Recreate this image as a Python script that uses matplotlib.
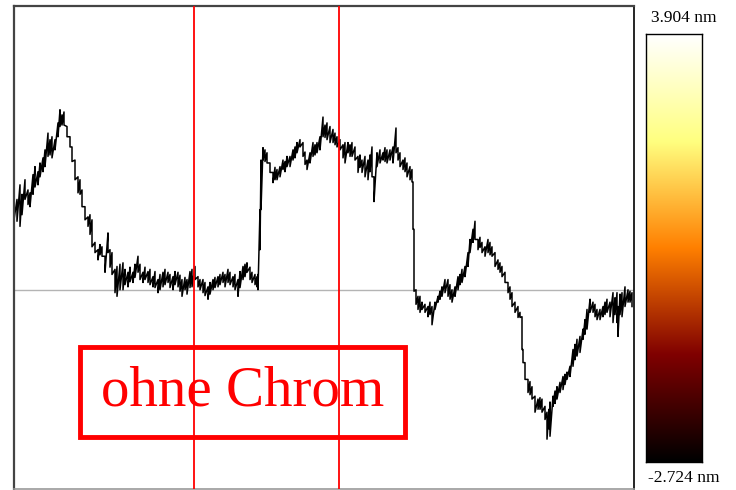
import numpy as np
import matplotlib

matplotlib.use("Agg")
import matplotlib.pyplot as plt
from matplotlib.patches import Rectangle

# Höhenprofil entlang der Messlinie (Position in Messpunkten, Höhe in nm)
pos = [0, 3, 6, 8, 11, 14, 16, 19, 21, 24, 26, 29, 31, 34, 36, 38, 41, 44, 46, 48,
       50, 53, 56, 58, 61, 64, 66, 68, 71, 74, 76, 78, 81, 84, 86, 88, 91, 94, 96, 98,
       101, 103, 106, 109, 111, 114, 116, 119, 121, 124, 126, 129, 131, 134, 136, 139, 141, 144, 146, 149,
       151, 154, 156, 159, 161, 164, 166, 168, 171, 173, 176, 178, 181, 184, 186, 189, 191, 194, 196, 199,
       201, 204, 206, 209, 211, 214, 216, 219, 221, 224, 226, 229, 231, 233, 236, 238, 241, 243, 244, 246,
       247, 249, 251, 253, 256, 259, 261, 263, 266, 269, 271, 273, 276, 279, 281, 283, 286, 289, 291, 293,
       296, 299, 301, 303, 306, 309, 311, 313, 316, 319, 321, 323, 326, 329, 331, 334, 336, 338, 341, 344,
       346, 348, 351, 354, 356, 358, 360, 363, 366, 369, 371, 373, 376, 379, 382, 384, 386, 389, 391, 393,
       396, 398, 399, 400, 402, 404, 406, 408, 411, 414, 416, 418, 421, 424, 426, 428, 431, 434, 436, 438,
       441, 444, 446, 448, 451, 454, 456, 459, 461, 464, 466, 468, 471, 474, 476, 478, 481, 484, 486, 488,
       491, 494, 496, 498, 501, 504, 506, 508, 509, 511, 514, 516, 518, 521, 524, 526, 528, 531, 533, 535,
       536, 539, 541, 543, 546, 549, 551, 553, 556, 559, 561, 563, 566, 569, 571, 573, 576, 579, 581, 583,
       586, 589, 591, 593, 596, 599, 601, 603, 604, 606, 608, 611, 614, 616, 618]

# obere / untere Einhüllende des Rauschens je Messpunkt
h_hi = [1.15, 1.25, 1.45, 1.32, 1.52, 1.38, 1.34, 1.59, 1.70, 1.63, 1.75, 1.82, 1.93, 2.16, 2.07, 2.11, 2.07, 2.30, 2.48, 2.41,
        2.45, 2.25, 2.11, 1.97, 1.79, 1.56, 1.52, 1.38, 1.15, 1.01, 1.04, 0.97, 0.66, 0.56, 0.63, 0.60, 0.47, 0.79, 0.56, 0.52,
        0.29, 0.33, 0.36, 0.38, 0.29, 0.25, 0.32, 0.25, 0.36, 0.47, 0.36, 0.25, 0.32, 0.26, 0.29, 0.19, 0.26, 0.15, 0.22, 0.25,
        0.29, 0.25, 0.22, 0.19, 0.26, 0.25, 0.21, 0.15, 0.18, 0.15, 0.26, 0.29, 0.33, 0.19, 0.15, 0.15, 0.11, 0.05, 0.11, 0.15,
        0.18, 0.19, 0.22, 0.25, 0.22, 0.29, 0.25, 0.19, 0.22, 0.15, 0.26, 0.33, 0.36, 0.38, 0.32, 0.25, 0.22, 0.19, 0.22, 1.11,
        1.79, 1.96, 1.93, 1.89, 1.75, 1.62, 1.69, 1.66, 1.70, 1.79, 1.77, 1.84, 1.84, 1.93, 1.97, 2.03, 2.07, 2.03, 1.90, 1.79,
        1.89, 2.03, 2.00, 2.03, 2.11, 2.38, 2.27, 2.30, 2.25, 2.21, 2.16, 2.11, 2.07, 2.00, 2.03, 2.03, 2.00, 2.03, 1.97, 1.84,
        1.86, 1.79, 1.84, 1.79, 1.86, 1.97, 1.56, 1.89, 1.93, 1.89, 1.96, 1.93, 1.93, 1.97, 2.23, 1.96, 1.89, 1.79, 1.82, 1.75,
        1.70, 1.66, 1.49, 0.84, 0.01, -0.08, -0.08, -0.16, -0.19, -0.22, -0.16, -0.22, -0.16, -0.08, -0.01, 0.05, 0.15, 0.15, 0.08, 0.01,
        0.05, 0.19, 0.22, 0.29, 0.33, 0.52, 0.70, 0.84, 0.95, 0.70, 0.73, 0.66, 0.60, 0.70, 0.66, 0.60, 0.52, 0.42, 0.38, 0.33,
        0.25, 0.11, 0.05, -0.03, -0.16, -0.22, -0.30, -0.36, -0.81, -0.99, -1.22, -1.25, -1.32, -1.45, -1.49, -1.47, -1.49, -1.59, -1.67, -1.63,
        -1.53, -1.45, -1.38, -1.32, -1.26, -1.18, -1.15, -1.12, -1.04, -0.81, -0.74, -0.67, -0.63, -0.53, -0.40, -0.26, -0.12, -0.16, -0.19, -0.26,
        -0.26, -0.22, -0.16, -0.12, -0.16, -0.03, -0.10, -0.03, -0.22, -0.05, -0.03, 0.05, 0.01, -0.01, -0.03]

h_lo = [0.97, 0.95, 0.88, 1.04, 1.25, 1.18, 1.15, 1.32, 1.42, 1.45, 1.56, 1.63, 1.70, 1.84, 1.86, 1.82, 1.93, 2.11, 2.25, 2.27,
        2.27, 2.11, 1.97, 1.77, 1.52, 1.34, 1.32, 1.15, 0.97, 0.88, 0.77, 0.60, 0.52, 0.42, 0.49, 0.47, 0.25, 0.52, 0.32, 0.22,
        -0.03, -0.08, 0.01, 0.01, 0.08, 0.05, 0.12, 0.11, 0.18, 0.25, 0.15, 0.11, 0.15, 0.11, 0.08, 0.05, 0.04, -0.03, 0.01, 0.05,
        0.08, 0.11, 0.04, 0.01, 0.08, 0.05, -0.01, -0.08, 0.01, -0.05, 0.04, 0.05, 0.15, 0.05, 0.01, -0.03, -0.07, -0.12, -0.05, 0.01,
        0.04, 0.05, 0.08, 0.11, 0.05, 0.11, 0.08, 0.05, 0.01, -0.08, 0.04, 0.15, 0.19, 0.25, 0.15, 0.11, 0.08, 0.05, 0.01, 0.56,
        1.11, 1.79, 1.77, 1.75, 1.62, 1.48, 1.52, 1.52, 1.56, 1.66, 1.63, 1.70, 1.70, 1.79, 1.82, 1.89, 1.97, 1.84, 1.73, 1.66,
        1.75, 1.84, 1.86, 1.89, 1.93, 2.11, 2.10, 2.07, 2.03, 2.03, 2.00, 1.97, 1.93, 1.82, 1.75, 1.89, 1.84, 1.84, 1.79, 1.62,
        1.69, 1.62, 1.56, 1.52, 1.63, 1.56, 1.22, 1.70, 1.75, 1.79, 1.77, 1.75, 1.79, 1.75, 1.89, 1.79, 1.70, 1.66, 1.63, 1.56,
        1.52, 1.49, 0.84, -0.01, -0.19, -0.26, -0.30, -0.26, -0.30, -0.36, -0.33, -0.47, -0.26, -0.16, -0.12, -0.08, -0.03, -0.08, -0.12, -0.16,
        -0.08, 0.01, 0.08, 0.11, 0.19, 0.33, 0.52, 0.66, 0.70, 0.56, 0.59, 0.52, 0.47, 0.52, 0.49, 0.47, 0.33, 0.29, 0.25, 0.19,
        0.11, -0.03, -0.12, -0.22, -0.30, -0.37, -0.37, -0.81, -0.99, -1.22, -1.40, -1.43, -1.49, -1.67, -1.63, -1.63, -1.67, -1.77, -2.04, -1.90,
        -2.00, -1.59, -1.55, -1.49, -1.40, -1.36, -1.29, -1.22, -1.18, -1.04, -0.95, -0.90, -0.85, -0.67, -0.60, -0.53, -0.30, -0.30, -0.36, -0.40,
        -0.40, -0.36, -0.33, -0.30, -0.36, -0.44, -0.33, -0.44, -0.63, -0.33, -0.36, -0.22, -0.16, -0.16, -0.22]

z_min, z_max = -2.724, 3.904   # Farbskala in nm
markers = [180, 325]           # Positionen der Schnittlinien
label = "ohne Chrom"

# je Messpunkt ein senkrechter Ausschlag von oben nach unten -> verrauschte Profillinie
xs = np.repeat(pos, 2)
ys = np.column_stack([h_hi, h_lo]).ravel()

serif = ["Liberation Serif", "DejaVu Serif"]

fig = plt.figure(figsize=(7.36, 4.90), dpi=100)
ax = fig.add_axes([14 / 736, 1 / 490, 620 / 736, 483 / 490])

ax.axhline(0, color="#b4b4b4", lw=1.0, zorder=1)
ax.plot(xs, ys, color="black", lw=1.1, zorder=2)
for m in markers:
    ax.axvline(m, color="red", lw=1.3, zorder=3)

ax.set_xlim(0, 620)
ax.set_ylim(z_min, z_max)
ax.set_xticks([])
ax.set_yticks([])
for side in ["left", "top"]:
    ax.spines[side].set_color("#444444")
    ax.spines[side].set_linewidth(1.6)
ax.spines["right"].set_color("black")
ax.spines["right"].set_linewidth(1.2)
ax.spines["bottom"].set_color("#999999")
ax.spines["bottom"].set_linewidth(1.2)

# roter Rahmen mit Beschriftung
ax.add_patch(Rectangle((0.106, 0.108), 0.524, 0.186, transform=ax.transAxes,
                       fill=False, edgecolor="red", lw=3.5, zorder=4))
ax.text(0.368, 0.201, label, transform=ax.transAxes, ha="center", va="center",
        color="red", fontsize=41, family=serif, zorder=5)

# Farbskala
cax = fig.add_axes([646 / 736, 28 / 490, 56 / 736, 428 / 490])
grad = np.linspace(z_min, z_max, 256).reshape(-1, 1)
cax.imshow(grad, cmap="afmhot", aspect="auto", origin="lower",
           extent=[0, 1, z_min, z_max])
cax.set_xticks([])
cax.set_yticks([])
for s in cax.spines.values():
    s.set_color("black")
    s.set_linewidth(1.0)

fig.text(684 / 736, 1 - 18 / 490, f"{z_max:.3f} nm", ha="center", va="center",
         fontsize=12.5, family=serif)
fig.text(684 / 736, 1 - 478 / 490, f"{z_min:.3f} nm", ha="center", va="center",
         fontsize=12.5, family=serif)

fig.savefig("out.png", dpi=100)
